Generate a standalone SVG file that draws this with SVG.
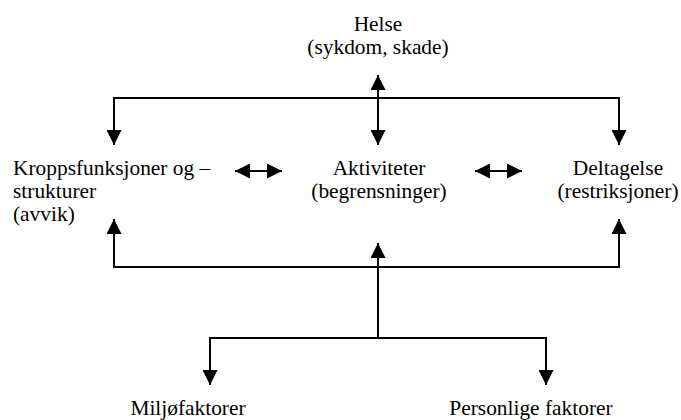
<svg xmlns="http://www.w3.org/2000/svg" width="681" height="420" viewBox="0 0 681 420">
<defs>
<style>
text{font-family:"Liberation Serif","Times New Roman","DejaVu Serif",serif;font-size:21.4px;fill:#000}
.c{text-anchor:middle}
.ln{stroke:#000;stroke-width:2;fill:none}
</style>
<marker id="ah" viewBox="0 0 10 10" refX="10" refY="5" markerWidth="7.5" markerHeight="7.5" markerUnits="strokeWidth" orient="auto-start-reverse">
<path d="M0,0 L10,5 L0,10 Z" fill="#000"/>
</marker>
</defs>
<rect width="681" height="420" fill="#fff"/>
<g id="helse"><text class="c" x="378" y="31">Helse</text><text class="c" x="378" y="54">(sykdom, skade)</text></g>
<g id="kropp"><text x="13" y="175">Kroppsfunksjoner og –</text><text x="13" y="198">strukturer</text><text x="13" y="221">(avvik)</text></g>
<g id="aktiviteter"><text class="c" x="379" y="175">Aktiviteter</text><text class="c" x="379" y="198">(begrensninger)</text></g>
<g id="deltagelse"><text class="c" x="618" y="175">Deltagelse</text><text class="c" x="618" y="198">(restriksjoner)</text></g>
<g id="miljo"><text class="c" x="188" y="415">Miljøfaktorer</text></g>
<g id="personlige"><text class="c" x="531" y="415">Personlige faktorer</text></g>
<g id="connectors">
<path class="ln" d="M378,75 V145" marker-start="url(#ah)" marker-end="url(#ah)"/>
<path class="ln" d="M114,145 V98 H619 V145" marker-start="url(#ah)" marker-end="url(#ah)"/>
<path class="ln" d="M235,171 H282" marker-start="url(#ah)" marker-end="url(#ah)"/>
<path class="ln" d="M475,171 H522" marker-start="url(#ah)" marker-end="url(#ah)"/>
<path class="ln" d="M114,219 V267 H619 V219" marker-start="url(#ah)" marker-end="url(#ah)"/>
<path class="ln" d="M378,338 V243" marker-end="url(#ah)"/>
<path class="ln" d="M210,385 V338 H546 V385" marker-start="url(#ah)" marker-end="url(#ah)"/>
</g>
</svg>
